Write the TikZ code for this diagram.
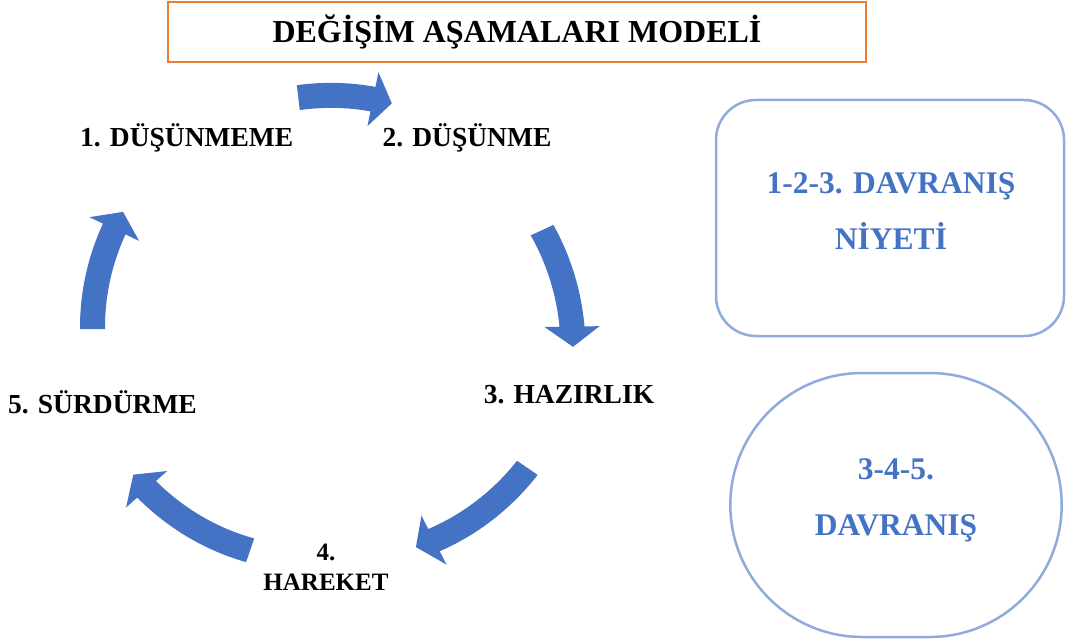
\documentclass[tikz,border=0pt]{standalone}
\usepackage{fontspec}
\setmainfont{Liberation Serif}
\usetikzlibrary{shapes.misc}

\definecolor{cycleblue}{HTML}{4472C4}
\definecolor{panelblue}{HTML}{8FAADC}
\definecolor{titleorange}{HTML}{ED7D31}

% centre of the stage cycle
\newcommand{\hubx}{326}
\newcommand{\huby}{330}

% curved block arrow running clockwise round the hub
% #1 tail angle, #2 tip angle, #3 radius at tail, #4 radius at tip
\newcommand{\cyclearrow}[4]{%
  \begin{scope}[declare function={rr(\t)=#3+(#4-#3)*(\t-#1)/(#2-#1);}]
    \pgfmathsetmacro{\hb}{#2-4.7}
    \fill[cyclearrow]
      plot[domain=#1:\hb,samples=40] ({\hubx+(rr(\x)+12.5)*cos(\x)},{\huby+(rr(\x)+12.5)*sin(\x)})
      -- ({\hubx+(rr(\hb)+27.5)*cos(\hb)},{\huby+(rr(\hb)+27.5)*sin(\hb)})
      -- ({\hubx+rr(#2)*cos(#2)},{\huby+rr(#2)*sin(#2)})
      -- ({\hubx+(rr(\hb)-27.5)*cos(\hb)},{\huby+(rr(\hb)-27.5)*sin(\hb)})
      -- plot[domain=\hb:#1,samples=40] ({\hubx+(rr(\x)-12.5)*cos(\x)},{\huby+(rr(\x)-12.5)*sin(\x)})
      -- cycle;
  \end{scope}}

\tikzset{
  cyclearrow/.style={fill=cycleblue},
  stage/.style={anchor=base, inner sep=0pt, align=center,
    font=\fontsize{27.5}{30}\selectfont\bfseries},
  smallstage/.style={stage, font=\fontsize{25}{30}\selectfont\bfseries},
  titlebox/.style={draw=titleorange, line width=2.2pt, minimum width=698,
    minimum height=60, font=\fontsize{32}{36}\selectfont\bfseries},
  panel/.style={draw=panelblue, line width=2.5pt},
  paneltext/.style={anchor=base, inner sep=0pt, align=center, text=cycleblue,
    font=\fontsize{31.5}{56}\selectfont\bfseries},
}

\begin{document}
\begin{tikzpicture}[x=1pt, y=-1pt]
  \useasboundingbox (0,0) rectangle (1068,644);

  % heading
  \node[titlebox] (title) at (517,32) {DEĞİŞİM AŞAMALARI MODELİ};

  % stages of change (multi-line nodes sit on their last baseline)
  \node[stage] (s1) at (186.7,146.7) {1. DÜŞÜNMEME};
  \node[stage] (s2) at (467,147) {2. DÜŞÜNME};
  \node[stage] (s3) at (569,403) {3. HAZIRLIK};
  \node[smallstage] (s4) at (326,590) {4.\\HAREKET};
  \node[stage] (s5) at (102.5,413) {5. SÜRDÜRME};

  % arrows between successive stages
  \cyclearrow{263.2}{286.2}{234}{236}
  \cyclearrow{335.2}{363.9}{238}{247.6}
  \cyclearrow{34.4}{67.5}{244}{235}
  \cyclearrow{109}{143.1}{233}{241}
  \cyclearrow{180.2}{210.2}{233.5}{234.8}

  % grouping panels
  \node[panel, rounded corners=40pt, minimum width=348, minimum height=236]
    (intentbox) at (890,218) {};
  \node[paneltext] (intenttext) at (891,250) {1-2-3. DAVRANIŞ\\NİYETİ};

  \node[panel, rounded rectangle, minimum width=338, minimum height=264]
    (actbox) at (896,505) {};
  \node[paneltext] (acttext) at (896,535) {3-4-5.\\DAVRANIŞ};
\end{tikzpicture}
\end{document}
